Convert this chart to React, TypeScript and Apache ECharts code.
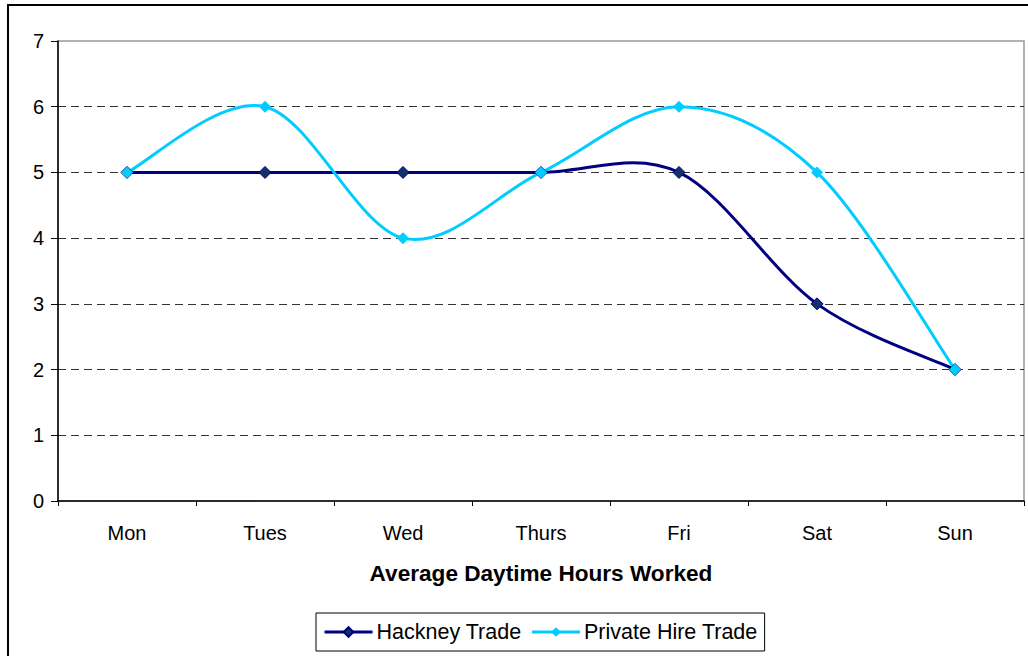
import React, { useEffect, useRef } from "react";
import * as echarts from "echarts";

const categories = ["Mon", "Tues", "Wed", "Thurs", "Fri", "Sat", "Sun"];
const hackneyValues = [5, 5, 5, 5, 5, 3, 2];
const privateHireValues = [5, 6, 4, 5, 6, 5, 2];
const seriesNames = ["Hackney Trade", "Private Hire Trade"];
const axisTitle = "Average Daytime Hours Worked";

const FONT = "Arial, 'Liberation Sans', sans-serif";
const HACKNEY_COLOR = "#000080";
const PRIVATE_COLOR = "#00CCFF";

// Smoothed curve like a spreadsheet's "smoothed line" (Catmull-Rom style Bezier)
function makeCurveRenderer(values: number[], color: string) {
  return (params: any, api: any) => {
    if (params.dataIndex !== 0) return null;
    const pts = values.map((v, i) => api.coord([i, v]));
    let d = `M${pts[0][0]},${pts[0][1]}`;
    for (let i = 0; i < pts.length - 1; i++) {
      const p0 = pts[i - 1] || pts[i];
      const p1 = pts[i];
      const p2 = pts[i + 1];
      const p3 = pts[i + 2] || pts[i + 1];
      const c1x = p1[0] + (p2[0] - p0[0]) / 6;
      const c1y = p1[1] + (p2[1] - p0[1]) / 6;
      const c2x = p2[0] - (p3[0] - p1[0]) / 6;
      const c2y = p2[1] - (p3[1] - p1[1]) / 6;
      d += ` C${c1x},${c1y} ${c2x},${c2y} ${p2[0]},${p2[1]}`;
    }
    return {
      type: "path",
      shape: { pathData: d },
      style: { stroke: color, fill: "none", lineWidth: 3, lineJoin: "round", lineCap: "round" },
    };
  };
}

export default function App() {
  const ref = useRef<HTMLDivElement>(null);
  useEffect(() => {
    if (!ref.current) return;
    const chart = echarts.init(ref.current, null, { renderer: "svg" });
    chart.setOption({
      animation: false,
      backgroundColor: "#fff",
      textStyle: { fontFamily: FONT, color: "#000" },
      graphic: [
        {
          type: "rect",
          shape: { x: 8, y: 5, width: 1040, height: 680 },
          style: { fill: "none", stroke: "#000", lineWidth: 2 },
          silent: true,
        },
      ],
      grid: {
        left: 58,
        top: 41,
        right: 4,
        bottom: 155,
        show: true,
        borderColor: "#999",
        borderWidth: 1.5,
        backgroundColor: "transparent",
      },
      xAxis: {
        type: "category",
        data: categories,
        boundaryGap: true,
        name: axisTitle,
        nameLocation: "middle",
        nameGap: 61,
        nameTextStyle: { fontSize: 22.6, fontWeight: "bold", color: "#000", fontFamily: FONT },
        axisLine: { lineStyle: { color: "#000", width: 1.5 } },
        axisTick: { show: true, length: 5, lineStyle: { color: "#000" }, alignWithLabel: false },
        axisLabel: { fontSize: 20, color: "#000", margin: 22, fontFamily: FONT },
        splitLine: { show: false },
      },
      yAxis: {
        type: "value",
        min: 0,
        max: 7,
        interval: 1,
        axisLine: { show: true, lineStyle: { color: "#000", width: 1.5 } },
        axisTick: { show: true, length: 7, lineStyle: { color: "#000" } },
        axisLabel: { fontSize: 20, color: "#000", margin: 14, fontFamily: FONT },
        splitLine: {
          show: true,
          showMinLine: false,
          showMaxLine: false,
          lineStyle: { color: "#333", type: [8, 5], width: 1.2 },
        },
      },
      legend: {
        left: 316,
        top: 613,
        orient: "horizontal",
        data: seriesNames,
        borderColor: "#000",
        borderWidth: 1,
        padding: [8, 7, 8, 7],
        itemGap: 9,
        itemWidth: 48,
        itemHeight: 12,
        lineStyle: { width: 3, opacity: 1 },
        textStyle: { fontSize: 21.5, color: "#000", fontFamily: FONT, padding: [0, 0, 0, -1] },
      },
      series: [
        {
          name: "hackney-curve",
          type: "custom",
          coordinateSystem: "cartesian2d",
          data: hackneyValues.map((v, i) => [i, v]),
          renderItem: makeCurveRenderer(hackneyValues, HACKNEY_COLOR),
          silent: true,
          clip: false,
        },
        {
          name: seriesNames[0],
          type: "line",
          data: hackneyValues,
          symbol: "diamond",
          symbolSize: 12,
          lineStyle: { color: HACKNEY_COLOR, width: 3, opacity: 0 },
          itemStyle: { color: "#12306a", borderColor: HACKNEY_COLOR, borderWidth: 1 },
        },
        {
          name: "private-curve",
          type: "custom",
          coordinateSystem: "cartesian2d",
          data: privateHireValues.map((v, i) => [i, v]),
          renderItem: makeCurveRenderer(privateHireValues, PRIVATE_COLOR),
          silent: true,
          clip: false,
        },
        {
          name: seriesNames[1],
          type: "line",
          data: privateHireValues,
          symbol: "diamond",
          symbolSize: 12,
          lineStyle: { color: PRIVATE_COLOR, width: 3, opacity: 0 },
          itemStyle: { color: PRIVATE_COLOR },
        },
      ],
    });
    return () => chart.dispose();
  }, []);
  return (
    <div
      ref={ref}
      style={{ position: "absolute", left: 0, top: 0, width: 1028, height: 656 }}
    />
  );
}
